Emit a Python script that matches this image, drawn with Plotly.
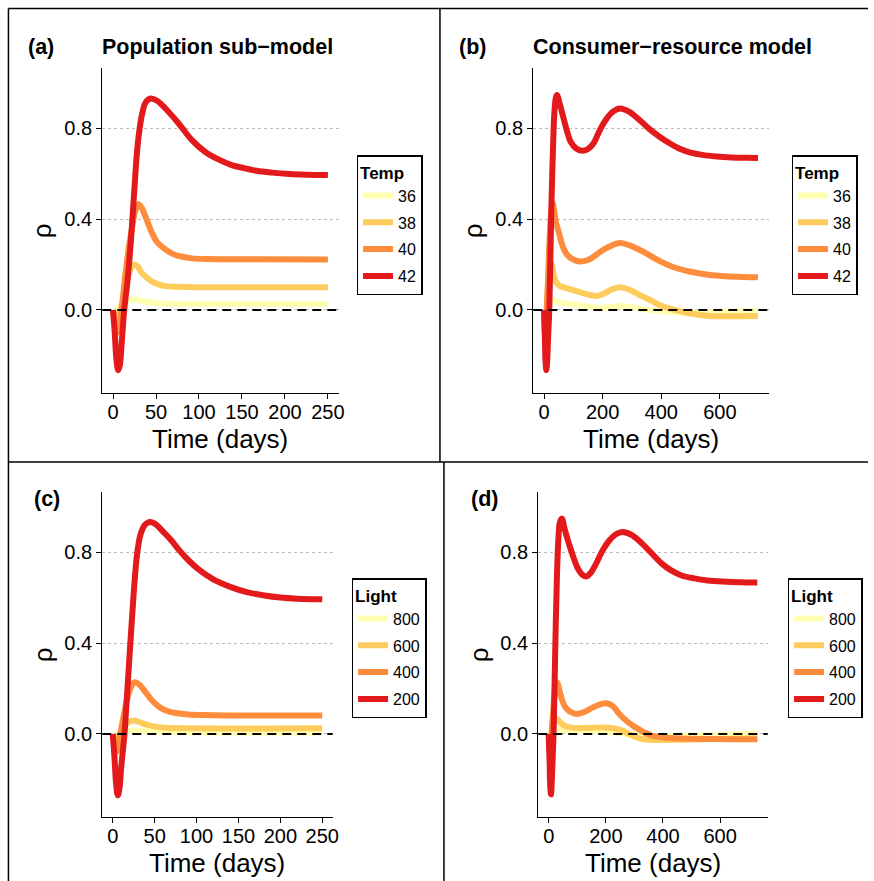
import plotly.graph_objects as go

W, H = 874, 881
FONT = "Liberation Sans, Arial, Helvetica, sans-serif"
COLS = ["#FFFFB2", "#FECC5C", "#FD8D3C", "#E31A1C"]

# ---------------- Panel (a): Population sub-model, Temp ----------------
temp_labels = ["36", "38", "40", "42"]
a_t36 = [0, 3, 7, 12, 18, 24.3, 32, 41.7, 55, 75, 110, 250]
a_v36 = [0, -0.008, 0.012, 0.03, 0.041, 0.046, 0.042, 0.034, 0.029, 0.027, 0.026, 0.026]
a_t38 = [0, 2, 4, 7, 10, 14.7, 19, 22, 25, 29, 34, 40, 45.5, 53, 61, 75, 95, 130, 250]
a_v38 = [0, -0.025, -0.04, -0.025, 0.02, 0.103, 0.165, 0.192, 0.2, 0.19, 0.161, 0.14, 0.125, 0.113, 0.105, 0.102, 0.1, 0.1, 0.1]
a_t40 = [0, 2, 5, 8, 10, 13, 16.6, 19.5, 22.4, 25.5, 29.3, 33, 37.8, 45.5, 51, 57, 64, 72.5, 82, 91.8, 110, 140, 250]
a_v40 = [0, -0.06, -0.10, -0.06, 0.0, 0.11, 0.225, 0.30, 0.366, 0.43, 0.465, 0.452, 0.41, 0.337, 0.30, 0.278, 0.258, 0.242, 0.233, 0.227, 0.224, 0.223, 0.222]
a_t42 = [0, 2, 4, 6, 8, 10, 13, 16.6, 20.5, 24.3, 28, 31, 34, 37.8, 43.6, 51.3, 61, 76.4, 91.8, 107, 122.7, 138, 153.6, 167, 185, 205, 225, 250]
a_v42 = [0, -0.1, -0.22, -0.265, -0.24, -0.15, 0.0, 0.12, 0.29, 0.50, 0.70, 0.80, 0.865, 0.912, 0.930, 0.92, 0.886, 0.82, 0.747, 0.696, 0.662, 0.637, 0.623, 0.612, 0.604, 0.598, 0.595, 0.593]

# ---------------- Panel (b): Consumer-resource model, Temp ----------------
b_t36 = [0, 4, 8, 13, 18, 25, 35, 57, 90, 135.6, 191, 225, 259, 300, 360, 420, 495, 560, 630, 730]
b_v36 = [0, -0.01, 0.0, 0.035, 0.051, 0.05, 0.042, 0.032, 0.025, 0.018, 0.008, 0.012, 0.018, 0.012, 0.0, -0.008, -0.012, -0.01, -0.007, -0.004]
b_t38 = [0, 3, 6, 10, 15, 19, 23.4, 28, 33, 40, 55, 79.5, 105, 135.6, 160, 180, 205, 230, 259, 290, 326, 360, 394, 430, 461, 510, 561, 620, 680, 730]
b_v38 = [0, -0.04, -0.03, 0.03, 0.12, 0.18, 0.21, 0.19, 0.155, 0.125, 0.105, 0.095, 0.085, 0.073, 0.065, 0.062, 0.072, 0.09, 0.10, 0.09, 0.066, 0.045, 0.022, 0.006, -0.005, -0.018, -0.026, -0.028, -0.027, -0.026]
b_t40 = [0, 3, 6, 10, 15, 20, 25, 29, 34, 40, 51.5, 65, 79.5, 100, 124, 150, 170, 192, 225, 259, 290, 320, 349, 390, 438, 500, 560, 620, 680, 730]
b_v40 = [0, -0.10, -0.07, 0.02, 0.18, 0.34, 0.44, 0.472, 0.44, 0.39, 0.337, 0.275, 0.242, 0.222, 0.213, 0.22, 0.235, 0.256, 0.28, 0.294, 0.285, 0.268, 0.249, 0.218, 0.19, 0.168, 0.155, 0.148, 0.145, 0.144]
b_t42 = [0, 3, 5, 8, 11, 14, 18, 22, 26, 30, 35, 40, 44, 55, 68.3, 80, 90.8, 110, 130, 150, 169, 190, 214, 235, 259, 290, 326, 360, 394, 430, 461, 500, 540, 590, 640, 690, 730]
b_v42 = [0, -0.12, -0.22, -0.264, -0.22, -0.12, 0.0, 0.25, 0.5, 0.68, 0.86, 0.93, 0.945, 0.90, 0.835, 0.78, 0.74, 0.71, 0.70, 0.708, 0.733, 0.79, 0.842, 0.872, 0.886, 0.872, 0.835, 0.795, 0.762, 0.732, 0.71, 0.692, 0.682, 0.675, 0.671, 0.669, 0.668]

# ---------------- Panel (c): Population sub-model, Light ----------------
light_labels = ["800", "600", "400", "200"]
c_t800 = [0, 3, 8, 15, 27, 45, 70, 120, 250]
c_v800 = [0, -0.006, 0.0, 0.01, 0.015, 0.012, 0.009, 0.007, 0.007]
c_t600 = [0, 3, 6, 10, 15, 20, 25, 32, 40, 55, 75, 250]
c_v600 = [0, -0.02, -0.012, 0.012, 0.038, 0.054, 0.059, 0.052, 0.041, 0.03, 0.026, 0.025]
c_t400 = [0, 2, 4, 6, 9, 13, 17, 21, 25, 27, 31, 36, 42, 47, 55, 65, 75, 90, 110, 150, 250]
c_v400 = [0, -0.05, -0.08, -0.07, 0.0, 0.08, 0.15, 0.2, 0.225, 0.228, 0.22, 0.198, 0.17, 0.147, 0.12, 0.101, 0.092, 0.086, 0.083, 0.081, 0.081]
c_t200 = [0, 2, 4, 6, 8, 10, 14, 17, 21, 25, 29, 33, 38, 44.6, 52, 60, 70, 80, 90, 102, 120, 141, 160, 181, 200, 220, 250]
c_v200 = [0, -0.1, -0.22, -0.27, -0.24, -0.15, 0.0, 0.17, 0.40, 0.62, 0.79, 0.875, 0.918, 0.932, 0.92, 0.89, 0.851, 0.805, 0.765, 0.725, 0.68, 0.646, 0.624, 0.609, 0.60, 0.595, 0.592]

# ---------------- Panel (d): Consumer-resource model, Light ----------------
d_t800 = [0, 4, 10, 23, 45, 90, 140, 189, 240, 304, 360, 420, 500, 600, 730]
d_v800 = [0, -0.008, 0.005, 0.022, 0.018, 0.014, 0.013, 0.012, 0.005, -0.007, -0.009, -0.008, -0.007, -0.004, 0.002]
d_t600 = [0, 3, 8, 14, 20, 29, 38, 50, 75, 110, 150, 189, 225, 258, 290, 327, 370, 419, 480, 540, 591, 660, 730]
d_v600 = [0, -0.02, -0.005, 0.025, 0.05, 0.066, 0.055, 0.04, 0.029, 0.026, 0.027, 0.029, 0.025, 0.015, -0.005, -0.022, -0.026, -0.026, -0.025, -0.023, -0.022, -0.02, -0.019]
d_t400 = [0, 3, 6, 10, 15, 20, 25, 29, 34, 42, 52, 65, 80, 98, 120, 155, 180, 201, 225, 247, 275, 304, 330, 361, 400, 442, 500, 590, 660, 730]
d_v400 = [0, -0.08, -0.06, 0.0, 0.09, 0.17, 0.218, 0.228, 0.21, 0.17, 0.132, 0.108, 0.095, 0.088, 0.095, 0.117, 0.13, 0.135, 0.122, 0.088, 0.055, 0.029, 0.01, -0.007, -0.015, -0.019, -0.021, -0.022, -0.023, -0.023]
d_t200 = [0, 3, 5, 8, 11, 14, 17, 21, 25, 29, 34, 39, 46, 55, 65, 75, 90, 103, 118, 132, 148, 166, 190, 212, 235, 258, 290, 327, 360, 396, 430, 465, 510, 556, 610, 670, 730]
d_v200 = [0, -0.12, -0.22, -0.265, -0.2, -0.1, 0.0, 0.25, 0.5, 0.7, 0.86, 0.93, 0.947, 0.905, 0.86, 0.82, 0.765, 0.725, 0.7, 0.693, 0.71, 0.749, 0.81, 0.851, 0.878, 0.888, 0.875, 0.837, 0.795, 0.749, 0.718, 0.697, 0.684, 0.675, 0.67, 0.667, 0.666]

y_ticks = [0.0, 0.4, 0.8]
y_ticktext = ["0.0", "0.4", "0.8"]
x_ticks_pop = [0, 50, 100, 150, 200, 250]
x_ticks_cr = [0, 200, 400, 600]

panels = [
    ("", "legend", "Temp", temp_labels,
     [(a_t36, a_v36), (a_t38, a_v38), (a_t40, a_v40), (a_t42, a_v42)],
     [-12.5, 262.5], x_ticks_pop, (103, 341, 68, 393), (359, 155)),
    ("2", "legend2", "Temp", temp_labels,
     [(b_t36, b_v36), (b_t38, b_v38), (b_t40, b_v40), (b_t42, b_v42)],
     [-36.5, 766.5], x_ticks_cr, (537, 774, 68, 393), (797, 155)),
    ("3", "legend3", "Light", light_labels,
     [(c_t800, c_v800), (c_t600, c_v600), (c_t400, c_v400), (c_t200, c_v200)],
     [-12.5, 262.5], x_ticks_pop, (103, 335, 492, 817), (354, 578)),
    ("4", "legend4", "Light", light_labels,
     [(d_t800, d_v800), (d_t600, d_v600), (d_t400, d_v400), (d_t200, d_v200)],
     [-36.5, 766.5], x_ticks_cr, (542, 773, 492, 817), (793, 578)),
]

Y_RANGE = [-0.365, 1.064]

fig = go.Figure()
layout = dict(
    width=W, height=H, margin=dict(l=0, r=0, t=0, b=0),
    paper_bgcolor="white", plot_bgcolor="white",
    font=dict(family=FONT, color="black"),
)
shapes = []
annotations = []

for pi, (suf, leg, ltitle, labels, series, xr, xticks, box, legpos) in enumerate(panels):
    xa = "x" + suf
    ya = "y" + suf
    for li, (lab, (tt, vv), col) in enumerate(zip(labels, series, COLS)):
        fig.add_trace(go.Scatter(
            x=tt, y=vv, mode="lines", name=lab, legend=leg,
            legendgroup="p%d_%d" % (pi, li),
            line=dict(color=col, width=6, shape="spline", smoothing=1.0),
            xaxis=xa, yaxis=ya, showlegend=True,
        ))
    x0, x1, y0, y1 = box
    layout["xaxis" + suf] = dict(
        domain=[x0 / W, x1 / W], range=xr, anchor=ya,
        showline=True, linecolor="black", linewidth=1.4,
        ticks="outside", ticklen=5, tickwidth=1.4, tickcolor="black",
        ticklabelstandoff=-4,
        tickvals=xticks, tickfont=dict(size=20, color="black", family=FONT),
        showgrid=False, zeroline=False,
    )
    layout["yaxis" + suf] = dict(
        domain=[1 - y1 / H, 1 - y0 / H], range=Y_RANGE, anchor=xa,
        showline=True, linecolor="black", linewidth=1.4,
        ticks="outside", ticklen=5, tickwidth=1.4, tickcolor="black",
        tickvals=y_ticks, ticktext=y_ticktext,
        tickfont=dict(size=20, color="black", family=FONT),
        showgrid=True, gridcolor="#bdbdbd", gridwidth=1.2, griddash="dot",
        zeroline=False,
    )
    shapes.append(dict(
        type="line", xref=xa + " domain", yref=ya, x0=0, x1=1, y0=0, y1=0,
        line=dict(color="black", width=2.2, dash="9px,6px"), layer="above",
    ))
    annotations.append(dict(
        text="Time (days)", xref="paper", yref="paper",
        x=(x0 + x1) / 2 / W, y=1 - (y1 + 46) / H, xanchor="center", yanchor="middle",
        showarrow=False, font=dict(size=26, family=FONT, color="black"),
    ))
    annotations.append(dict(
        text="ρ", xref="paper", yref="paper",
        x=(x0 - 60) / W, y=1 - (y0 + y1) / 2 / H, xanchor="center", yanchor="middle",
        textangle=-90, showarrow=False, font=dict(size=26, family=FONT, color="black"),
    ))
    lx, ly = legpos
    layout[leg] = dict(
        x=lx / W, y=1 - ly / H, xanchor="left", yanchor="top",
        bordercolor="black", borderwidth=1.5, bgcolor="white",
        title=dict(text="<b>" + ltitle + "</b>", font=dict(size=17, family=FONT)),
        font=dict(size=16, family=FONT, color="black"),
        traceorder="grouped", itemwidth=30, tracegroupgap=3,
    )

titles = [
    ("<b>(a)</b>", 26, 47, "left"),
    ("<b>Population sub−model</b>", 219, 47, "center"),
    ("<b>(b)</b>", 460, 47, "left"),
    ("<b>Consumer−resource model</b>", 677, 47, "center"),
    ("<b>(c)</b>", 32, 499, "left"),
    ("<b>(d)</b>", 472, 499, "left"),
]
for txt, px, py, anc in titles:
    annotations.append(dict(
        text=txt, xref="paper", yref="paper", x=px / W, y=1 - py / H,
        xanchor=anc, yanchor="middle", showarrow=False,
        font=dict(size=21.5, family=FONT, color="black"),
    ))

frame = [
    (8.5, 8.5, W, 8.5),
    (8.5, 8.5, 8.5, H),
    (443, 8.5, 443, 462),
    (8.5, 462, W, 462),
    (447, 462, 447, H),
]
for fx0, fy0, fx1, fy1 in frame:
    shapes.append(dict(
        type="line", xref="paper", yref="paper",
        x0=fx0 / W, y0=1 - fy0 / H, x1=fx1 / W, y1=1 - fy1 / H,
        line=dict(color="black", width=1.5), layer="above",
    ))

layout["shapes"] = shapes
layout["annotations"] = annotations
fig.update_layout(**layout)
fig.write_html(
    "out.html",
    config={"displayModeBar": False},
    post_script="document.body.style.margin='0';document.body.style.overflow='hidden';",
)
